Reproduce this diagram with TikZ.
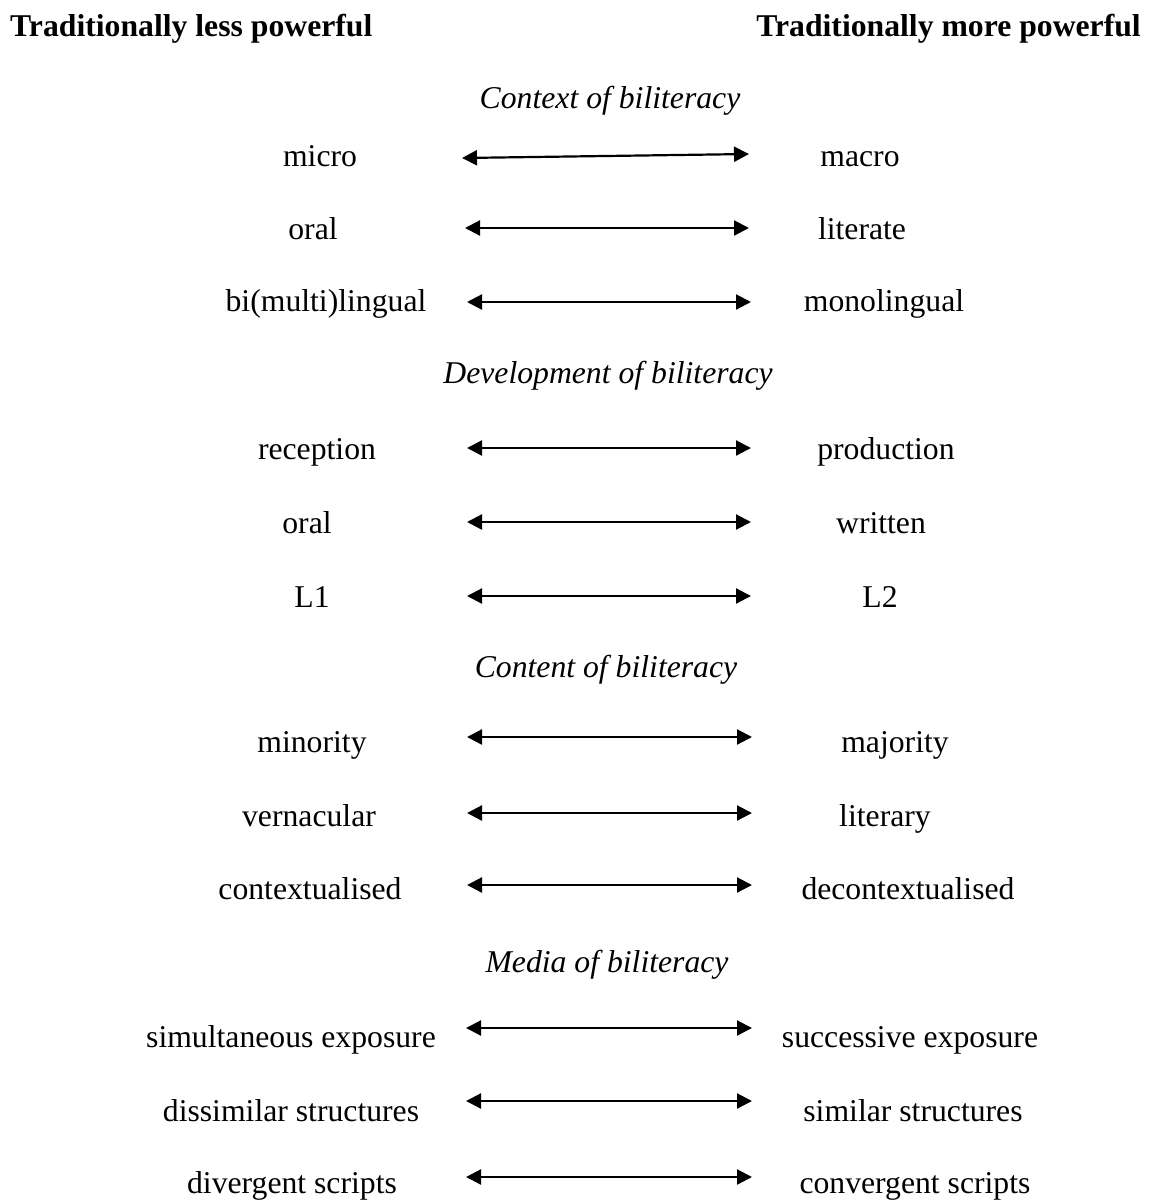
\documentclass[tikz,border=0pt]{standalone}
\usepackage{fontspec}
\setmainfont{Liberation Serif}
\usetikzlibrary{arrows.meta}
\begin{document}
\begin{tikzpicture}[x=1pt,y=-1pt,
  lbl/.style={inner sep=0pt, anchor=base, font=\fontsize{31.7}{36}\selectfont},
  hdr/.style={inner sep=0pt, anchor=base, font=\fontsize{31.7}{36}\selectfont\bfseries},
  sec/.style={inner sep=0pt, anchor=base, font=\fontsize{31.7}{36}\selectfont\itshape},
  arr/.style={{Triangle[length=15pt,width=15pt]}-{Triangle[length=15pt,width=15pt]}, line width=2.2pt}]
\useasboundingbox (0,0) rectangle (1152,1200);
\node[hdr, anchor=base west] (hl) at (10,36) {Traditionally less powerful};
\node[hdr, anchor=base east] (hr) at (1141,36) {Traditionally more powerful};
% Context
\node[sec] (s1) at (610,108) {Context of biliteracy};
\node[lbl] (a1) at (320,166) {micro};
\node[lbl] (b1) at (860,166) {macro};
\coordinate (p1) at (462,158); \coordinate (q1) at (749,154);
\draw[arr] (p1) -- (q1);
\node[lbl] (a2) at (313,239) {oral};
\node[lbl] (b2) at (862,239) {literate};
\coordinate (p2) at (465,228); \coordinate (q2) at (749,228);
\draw[arr] (p2) -- (q2);
\node[lbl] (a3) at (326,311) {bi(multi)lingual};
\node[lbl] (b3) at (884,311) {monolingual};
\coordinate (p3) at (467,302); \coordinate (q3) at (751,302);
\draw[arr] (p3) -- (q3);
% Development
\node[sec] (s2) at (608,383) {Development of biliteracy};
\node[lbl] (a4) at (317,459) {reception};
\node[lbl] (b4) at (886,459) {production};
\coordinate (p4) at (467,448); \coordinate (q4) at (751,448);
\draw[arr] (p4) -- (q4);
\node[lbl] (a5) at (307,533) {oral};
\node[lbl] (b5) at (881,533) {written};
\coordinate (p5) at (467,522); \coordinate (q5) at (751,522);
\draw[arr] (p5) -- (q5);
\node[lbl] (a6) at (312,607) {L1};
\node[lbl] (b6) at (880,607) {L2};
\coordinate (p6) at (467,596); \coordinate (q6) at (751,596);
\draw[arr] (p6) -- (q6);
% Content
\node[sec] (s3) at (606,677) {Content of biliteracy};
\node[lbl] (a7) at (312,752) {minority};
\node[lbl] (b7) at (895,752) {majority};
\coordinate (p7) at (467,737); \coordinate (q7) at (752,737);
\draw[arr] (p7) -- (q7);
\node[lbl] (a8) at (309,826) {vernacular};
\node[lbl] (b8) at (885,826) {literary};
\coordinate (p8) at (467,813); \coordinate (q8) at (752,813);
\draw[arr] (p8) -- (q8);
\node[lbl] (a9) at (310,899) {contextualised};
\node[lbl] (b9) at (908,899) {decontextualised};
\coordinate (p9) at (467,885); \coordinate (q9) at (752,885);
\draw[arr] (p9) -- (q9);
% Media
\node[sec] (s4) at (607,972) {Media of biliteracy};
\node[lbl] (a10) at (291,1047) {simultaneous exposure};
\node[lbl] (b10) at (910,1047) {successive exposure};
\coordinate (p10) at (466,1028); \coordinate (q10) at (752,1028);
\draw[arr] (p10) -- (q10);
\node[lbl] (a11) at (291,1121) {dissimilar structures};
\node[lbl] (b11) at (913,1121) {similar structures};
\coordinate (p11) at (466,1101); \coordinate (q11) at (752,1101);
\draw[arr] (p11) -- (q11);
\node[lbl] (a12) at (292,1193) {divergent scripts};
\node[lbl] (b12) at (915,1193) {convergent scripts};
\coordinate (p12) at (466,1177); \coordinate (q12) at (752,1177);
\draw[arr] (p12) -- (q12);
\end{tikzpicture}
\end{document}
